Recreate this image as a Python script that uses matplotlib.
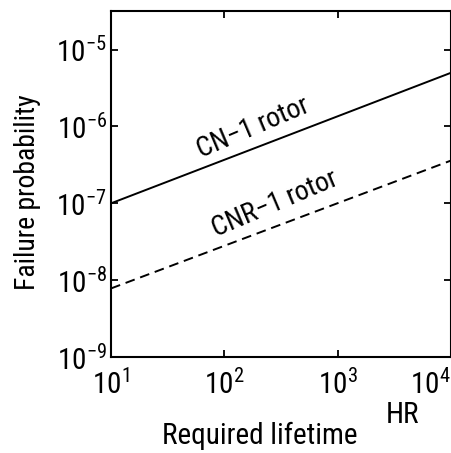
import matplotlib
matplotlib.use("Agg")
import matplotlib.pyplot as plt
from matplotlib.ticker import FixedLocator, NullLocator

plt.rcParams['font.family'] = ['Roboto Condensed', 'DejaVu Sans']
plt.rcParams['mathtext.fontset'] = 'custom'
plt.rcParams['mathtext.rm'] = 'Roboto Condensed'
plt.rcParams['mathtext.it'] = 'Roboto Condensed'
plt.rcParams['mathtext.bf'] = 'Roboto Condensed'

# data
lifetime = [10, 1e4]
cn1 = [1.0e-7, 5.0e-6]
cnr1 = [7.8e-9, 3.6e-7]
xticks = [1e1, 1e2, 1e3, 1e4]
xticklabels = [r'$\mathregular{10^{1}}$', r'$\mathregular{10^{2}}$', r'$\mathregular{10^{3}}$', r'$\mathregular{10^{4}}$']
yticks = [1e-9, 1e-8, 1e-7, 1e-6, 1e-5]
yticklabels = [r'$\mathregular{10^{-9}}$', r'$\mathregular{10^{-8}}$', r'$\mathregular{10^{-7}}$', r'$\mathregular{10^{-6}}$', r'$\mathregular{10^{-5}}$']

fig = plt.figure(figsize=(4.52, 4.53), dpi=100)
ax = fig.add_axes([0.2456, 0.212, 0.752, 0.764])
ax.set_xscale('log')
ax.set_yscale('log')
ax.plot(lifetime, cn1, color='black', lw=1.4, solid_capstyle='butt')
ax.plot(lifetime, cnr1, color='black', lw=1.4, linestyle=(0, (5, 3)))
ax.set_xlim(10, 1e4)
ax.set_ylim(1e-9, 3.2e-5)
ax.xaxis.set_major_locator(FixedLocator(xticks))
ax.yaxis.set_major_locator(FixedLocator(yticks))
ax.xaxis.set_minor_locator(NullLocator())
ax.yaxis.set_minor_locator(NullLocator())
ax.set_xticklabels(xticklabels, fontsize=21)
ax.set_yticklabels(yticklabels, fontsize=21)
ax.tick_params(direction='in', top=True, right=True, length=5, width=1.3)
ax.tick_params(axis='y', pad=3)
ax.tick_params(axis='x', pad=9)
xl = ax.get_xticklabels()
xl[-1].set_horizontalalignment('right')
for s in ax.spines.values():
    s.set_linewidth(1.5)

ax.set_ylabel('Failure probability', fontsize=20)
ax.yaxis.set_label_coords(-0.205, 0.477)
fig.text(260 / 452, 1 - 436 / 453, 'Required lifetime', fontsize=21, ha='center', va='center')
fig.text(403 / 452, 1 - 415 / 453, 'HR', fontsize=21, ha='center', va='center')

ax.text(179, 9.7e-7, 'CN\u22121 rotor', fontsize=20, rotation=23, ha='center', va='center', rotation_mode='anchor')
ax.text(280, 9.7e-8, 'CNR\u22121 rotor', fontsize=20, rotation=23, ha='center', va='center', rotation_mode='anchor')

fig.savefig('out.png', dpi=100)
